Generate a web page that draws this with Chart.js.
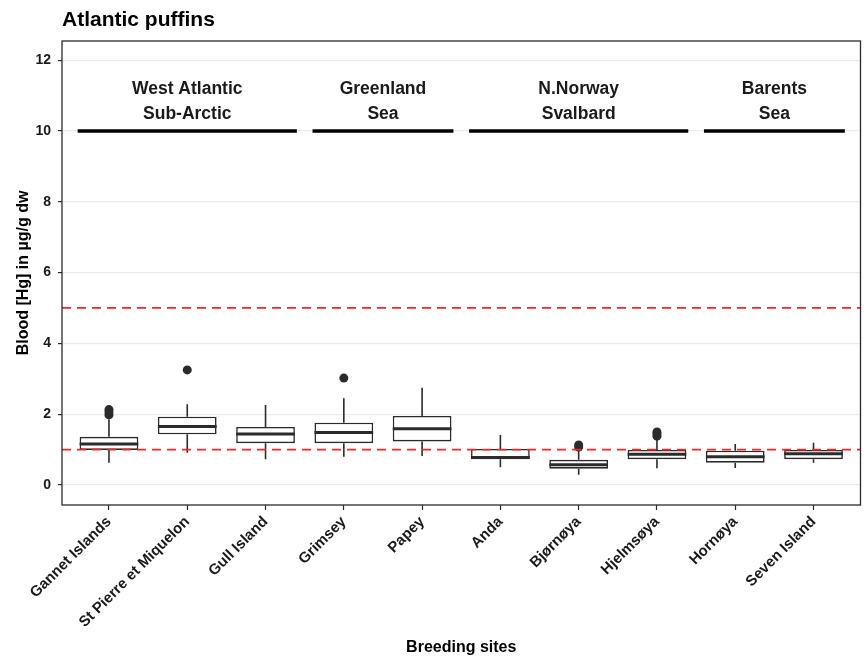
<!DOCTYPE html>
<html>
<head>
<meta charset="utf-8">
<title>Atlantic puffins</title>
<script src="https://cdn.jsdelivr.net/npm/chart.js@4.4.0/dist/chart.umd.min.js"></script>
<style>
  html, body { margin: 0; padding: 0; background: #fff; }
</style>
</head>
<body>
<canvas id="box-chart" width="865" height="661"></canvas>
<script>
// breeding sites (x categories)
const sites = ['Gannet Islands', 'St Pierre et Miquelon', 'Gull Island', 'Grimsey', 'Papey',
  'Anda', 'Bjørnøya', 'Hjelmsøya', 'Hornøya', 'Seven Island'];

// box statistics, blood Hg in µg/g dw
const whiskerLow  = [0.63, 0.91, 0.73, 0.80, 0.82, 0.50, 0.29, 0.47, 0.48, 0.63];
const q1          = [0.99, 1.43, 1.18, 1.18, 1.23, 0.73, 0.46, 0.73, 0.63, 0.73];
const median      = [1.16, 1.65, 1.44, 1.48, 1.59, 0.78, 0.57, 0.87, 0.80, 0.88];
const q3          = [1.36, 1.93, 1.64, 1.76, 1.95, 1.02, 0.71, 0.99, 0.97, 0.99];
const whiskerHigh = [1.85, 2.28, 2.26, 2.45, 2.75, 1.41, 0.99, 1.27, 1.16, 1.19];
const outliers = [[1.98, 2.06, 2.13], [3.25], [], [3.02], [], [], [1.07, 1.13], [1.38, 1.44, 1.50], [], []];

// regions drawn as bars above the boxes (from/to in category index units)
const regionNames = [['West Atlantic', 'Sub-Arctic'], ['Greenland', 'Sea'], ['N.Norway', 'Svalbard'], ['Barents', 'Sea']];
const regionFrom = [-0.4, 2.6, 4.6, 7.6];
const regionTo = [2.4, 4.4, 7.4, 9.4];
const regionLevel = 10;

// dashed threshold lines
const thresholds = [1, 5];

const yTicks = [0, 2, 4, 6, 8, 10, 12];

const FONT = "'Liberation Sans', Arial, Helvetica, sans-serif";
const INK = '#2b2b2b';

const boxData = sites.map((s, i) => ({ x: i, y: [q1[i], q3[i]] }));
const outlierData = [];
outliers.forEach((vals, i) => vals.forEach(v => outlierData.push({ x: i, y: v })));

const boxParts = {
  id: 'boxParts',
  afterDatasetsDraw(chart) {
    const { ctx, chartArea, scales: { x, y } } = chart;
    const bars = chart.getDatasetMeta(0).data;
    ctx.save();
    // whiskers and medians
    ctx.strokeStyle = INK;
    bars.forEach((bar, i) => {
      const cx = bar.x;
      ctx.lineWidth = 1.6;
      ctx.beginPath();
      ctx.moveTo(cx, y.getPixelForValue(whiskerLow[i]));
      ctx.lineTo(cx, y.getPixelForValue(q1[i]));
      ctx.moveTo(cx, y.getPixelForValue(q3[i]));
      ctx.lineTo(cx, y.getPixelForValue(whiskerHigh[i]));
      ctx.stroke();
      ctx.lineWidth = 3;
      const my = y.getPixelForValue(median[i]);
      ctx.beginPath();
      ctx.moveTo(cx - bar.width / 2, my);
      ctx.lineTo(cx + bar.width / 2, my);
      ctx.stroke();
    });
    // thresholds
    ctx.strokeStyle = '#f02828';
    ctx.lineWidth = 1.8;
    ctx.setLineDash([9, 6]);
    thresholds.forEach(t => {
      const ty = y.getPixelForValue(t);
      ctx.beginPath();
      ctx.moveTo(chartArea.left, ty);
      ctx.lineTo(chartArea.right, ty);
      ctx.stroke();
    });
    ctx.setLineDash([]);
    // region bars and names
    const ry = y.getPixelForValue(regionLevel);
    ctx.strokeStyle = '#000';
    ctx.lineWidth = 3.5;
    ctx.fillStyle = '#1a1a1a';
    ctx.font = 'bold 17.5px ' + FONT;
    ctx.textAlign = 'center';
    ctx.textBaseline = 'alphabetic';
    regionNames.forEach((lines, i) => {
      const x0 = x.getPixelForValue(regionFrom[i]);
      const x1 = x.getPixelForValue(regionTo[i]);
      ctx.beginPath();
      ctx.moveTo(x0, ry);
      ctx.lineTo(x1, ry);
      ctx.stroke();
      const cx = (x0 + x1) / 2;
      ctx.fillText(lines[0], cx, ry - 37);
      ctx.fillText(lines[1], cx, ry - 12);
    });
    ctx.restore();
  },
  afterDraw(chart) {
    const { ctx, chartArea } = chart;
    ctx.save();
    ctx.strokeStyle = INK;
    ctx.lineWidth = 1.3;
    ctx.strokeRect(chartArea.left, chartArea.top, chartArea.right - chartArea.left, chartArea.bottom - chartArea.top);
    ctx.fillStyle = '#000';
    ctx.font = 'bold 21px ' + FONT;
    ctx.textAlign = 'left';
    ctx.textBaseline = 'alphabetic';
    ctx.fillText('Atlantic puffins', chartArea.left, 26);
    ctx.restore();
  }
};

new Chart(document.getElementById('box-chart'), {
  type: 'bar',
  data: {
    datasets: [
      {
        label: 'box',
        data: boxData,
        backgroundColor: '#ffffff',
        borderColor: INK,
        borderWidth: 1.6,
        borderSkipped: false,
        barPercentage: 0.75,
        categoryPercentage: 1,
        grouped: false
      },
      {
        type: 'scatter',
        label: 'outliers',
        data: outlierData,
        pointRadius: 4.5,
        backgroundColor: INK,
        borderWidth: 0
      }
    ]
  },
  options: {
    responsive: false,
    devicePixelRatio: 1,
    animation: false,
    layout: { padding: { left: 4, top: 41, right: 3, bottom: 4 } },
    plugins: { legend: { display: false }, tooltip: { enabled: false } },
    scales: {
      x: {
        type: 'linear',
        offset: false,
        min: -0.6,
        max: 9.6,
        afterBuildTicks: s => { s.ticks = sites.map((_, i) => ({ value: i })); },
        afterFit: s => { s.height = 152; },
        border: { display: false },
        grid: { offset: false, drawOnChartArea: false, tickLength: 5, tickColor: INK, tickWidth: 1.2 },
        ticks: {
          autoSkip: false,
          minRotation: 45,
          maxRotation: 45,
          padding: 3,
          color: '#1a1a1a',
          font: { family: FONT, size: 15, weight: 'bold' },
          callback: v => sites[v]
        },
        title: {
          display: true,
          text: 'Breeding sites',
          color: '#000',
          padding: { top: 0, bottom: 0 },
          font: { family: FONT, size: 16, weight: 'bold' }
        }
      },
      y: {
        min: -0.565,
        max: 12.54,
        afterBuildTicks: s => { s.ticks = yTicks.map(v => ({ value: v })); },
        afterFit: s => { s.width = 58; },
        border: { display: false },
        grid: { color: '#ebebeb', lineWidth: 1.2, tickLength: 4, tickColor: INK, tickWidth: 1.2 },
        ticks: {
          padding: 7,
          color: '#1a1a1a',
          font: { family: FONT, size: 14, weight: 'bold' }
        },
        title: {
          display: true,
          text: 'Blood [Hg] in µg/g dw',
          color: '#000',
          padding: { top: 10, bottom: 0 },
          font: { family: FONT, size: 16, weight: 'bold' }
        }
      }
    }
  },
  plugins: [boxParts]
});
</script>
</body>
</html>
